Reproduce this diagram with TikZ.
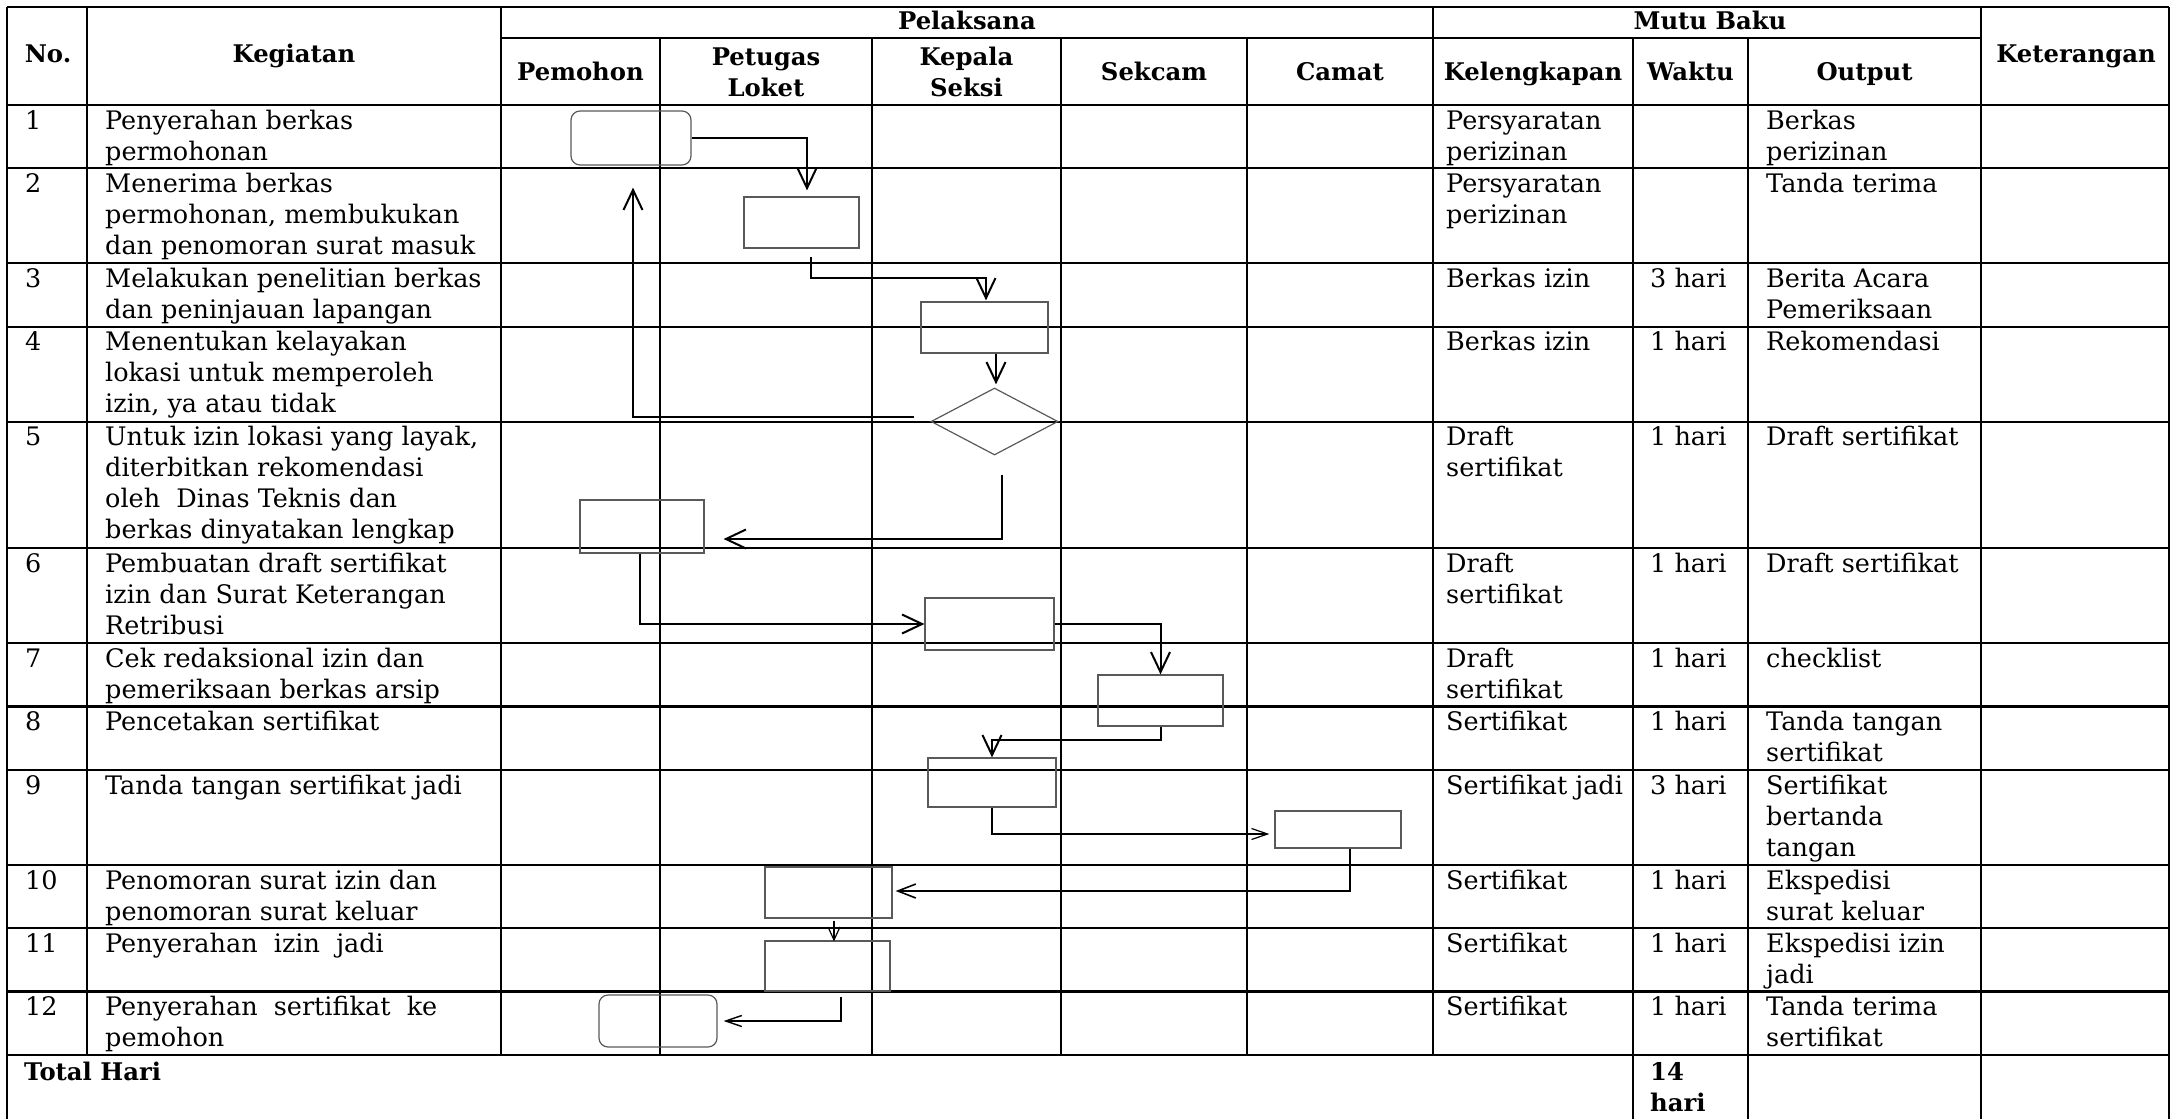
\documentclass[tikz,border=0pt]{standalone}
\usepackage{fontspec}
\setmainfont{DejaVu Serif}
\usetikzlibrary{arrows.meta,calc,shapes.geometric}
\newcommand\rowstrut{\rule{0pt}{24pt}}
\begin{document}
\begin{tikzpicture}[x=1pt,y=-1pt,
  gridline/.style={line width=2.2pt},
  gridlight/.style={line width=1.3pt},
  cell/.style={anchor=north west, inner sep=0pt, align=left, font=\fontsize{25.5}{31}\selectfont},
  headtxt/.style={anchor=base, inner sep=0pt, align=center, font=\bfseries\fontsize{24.3}{31}\selectfont},
  headtwo/.style={anchor=north, inner sep=0pt, align=center, font=\bfseries\fontsize{24.3}{31}\selectfont},
  proc/.style={draw=black!65, line width=1.2pt, rectangle, inner sep=0pt},
  term/.style={proc, rounded corners=9pt},
  dec/.style={draw=black!65, line width=1.2pt, diamond, aspect=1.9, inner sep=0pt, minimum width=127pt, minimum height=67pt},
  bigarr/.style={draw, line width=2pt, -{Straight Barb[length=20pt,width=19pt]}},
  medarr/.style={draw, line width=1.6pt, -{Straight Barb[length=18pt,width=14pt]}},
  thinarr/.style={draw, line width=1.2pt, -{Straight Barb[length=16pt,width=11pt]}},
]
\useasboundingbox (0,0) rectangle (2176,1119);

% ---------- table frame ----------
\draw[gridline] (7,7) -- (2169,7);
\draw[gridline] (7,7) -- (7,1119);
\draw[gridline] (2169,7) -- (2169,1119);
\draw[gridline] (501,38) -- (1981,38);
\foreach \yy in {105,168.3,263.3,326.6,421.6,548.2,643.2,706.5,769.8,864.8,928.1,991.4,1054.7}
  \draw[gridline] (7,\yy) -- (2169,\yy);
\foreach \xx in {87,501,1433}
  \draw[gridline] (\xx,7) -- (\xx,1054.7);
\draw[gridline] (1981,7) -- (1981,1119);
\draw[gridlight] (660,38) -- (660,1054.7);
\foreach \xx in {872,1061,1247}
  \draw[gridline] (\xx,38) -- (\xx,1054.7);
\foreach \xx in {1633,1748}
  \draw[gridline] (\xx,38) -- (\xx,1119);

% ---------- header ----------
\node[headtxt] (hno) at (48,62) {No.};
\node[headtxt] (hkeg) at (294,62) {Kegiatan};
\node[headtxt] (hpel) at (967,29) {Pelaksana};
\node[headtxt] (hmutu) at (1710,29) {Mutu Baku};
\node[headtxt] (hpem) at (580.5,80) {Pemohon};
\node[headtwo] (hpet) at (766,41) {\rowstrut Petugas\\Loket};
\node[headtwo] (hkep) at (966.5,41) {\rowstrut Kepala\\Seksi};
\node[headtxt] (hsek) at (1154,80) {Sekcam};
\node[headtxt] (hcam) at (1340,80) {Camat};
\node[headtxt] (hkel) at (1533,80) {Kelengkapan};
\node[headtxt] (hwak) at (1690.5,80) {Waktu};
\node[headtxt] (hout) at (1864.5,80) {Output};
\node[headtxt] (hket) at (2076,62) {Keterangan};

% ---------- rows ----------
\node[cell] (n1) at (25,105) {\rowstrut 1};
\node[cell] (k1) at (105,105) {\rowstrut Penyerahan berkas\\permohonan};
\node[cell] (l1) at (1446,105) {\rowstrut Persyaratan\\perizinan};
\node[cell] (o1) at (1766,105) {\rowstrut Berkas\\perizinan};

\node[cell] (n2) at (25,168.3) {\rowstrut 2};
\node[cell] (k2) at (105,168.3) {\rowstrut Menerima berkas\\permohonan, membukukan\\dan penomoran surat masuk};
\node[cell] (l2) at (1446,168.3) {\rowstrut Persyaratan\\perizinan};
\node[cell] (o2) at (1766,168.3) {\rowstrut Tanda terima};

\node[cell] (n3) at (25,263.3) {\rowstrut 3};
\node[cell] (k3) at (105,263.3) {\rowstrut Melakukan penelitian berkas\\dan peninjauan lapangan};
\node[cell] (l3) at (1446,263.3) {\rowstrut Berkas izin};
\node[cell] (w3) at (1650,263.3) {\rowstrut 3 hari};
\node[cell] (o3) at (1766,263.3) {\rowstrut Berita Acara\\Pemeriksaan};

\node[cell] (n4) at (25,326.6) {\rowstrut 4};
\node[cell] (k4) at (105,326.6) {\rowstrut Menentukan kelayakan\\lokasi untuk memperoleh\\izin, ya atau tidak};
\node[cell] (l4) at (1446,326.6) {\rowstrut Berkas izin};
\node[cell] (w4) at (1650,326.6) {\rowstrut 1 hari};
\node[cell] (o4) at (1766,326.6) {\rowstrut Rekomendasi};

\node[cell] (n5) at (25,421.6) {\rowstrut 5};
\node[cell] (k5) at (105,421.6) {\rowstrut Untuk izin lokasi yang layak,\\diterbitkan rekomendasi\\oleh\ \ Dinas Teknis dan\\berkas dinyatakan lengkap};
\node[cell] (l5) at (1446,421.6) {\rowstrut Draft\\sertifikat};
\node[cell] (w5) at (1650,421.6) {\rowstrut 1 hari};
\node[cell] (o5) at (1766,421.6) {\rowstrut Draft sertifikat};

\node[cell] (n6) at (25,548.2) {\rowstrut 6};
\node[cell] (k6) at (105,548.2) {\rowstrut Pembuatan draft sertifikat\\izin dan Surat Keterangan\\Retribusi};
\node[cell] (l6) at (1446,548.2) {\rowstrut Draft\\sertifikat};
\node[cell] (w6) at (1650,548.2) {\rowstrut 1 hari};
\node[cell] (o6) at (1766,548.2) {\rowstrut Draft sertifikat};

\node[cell] (n7) at (25,643.2) {\rowstrut 7};
\node[cell] (k7) at (105,643.2) {\rowstrut Cek redaksional izin dan\\pemeriksaan berkas arsip};
\node[cell] (l7) at (1446,643.2) {\rowstrut Draft\\sertifikat};
\node[cell] (w7) at (1650,643.2) {\rowstrut 1 hari};
\node[cell] (o7) at (1766,643.2) {\rowstrut checklist};

\node[cell] (n8) at (25,706.5) {\rowstrut 8};
\node[cell] (k8) at (105,706.5) {\rowstrut Pencetakan sertifikat};
\node[cell] (l8) at (1446,706.5) {\rowstrut Sertifikat};
\node[cell] (w8) at (1650,706.5) {\rowstrut 1 hari};
\node[cell] (o8) at (1766,706.5) {\rowstrut Tanda tangan\\sertifikat};

\node[cell] (n9) at (25,769.8) {\rowstrut 9};
\node[cell] (k9) at (105,769.8) {\rowstrut Tanda tangan sertifikat jadi};
\node[cell] (l9) at (1446,769.8) {\rowstrut Sertifikat jadi};
\node[cell] (w9) at (1650,769.8) {\rowstrut 3 hari};
\node[cell] (o9) at (1766,769.8) {\rowstrut Sertifikat\\bertanda\\tangan};

\node[cell] (n10) at (25,864.8) {\rowstrut 10};
\node[cell] (k10) at (105,864.8) {\rowstrut Penomoran surat izin dan\\penomoran surat keluar};
\node[cell] (l10) at (1446,864.8) {\rowstrut Sertifikat};
\node[cell] (w10) at (1650,864.8) {\rowstrut 1 hari};
\node[cell] (o10) at (1766,864.8) {\rowstrut Ekspedisi\\surat keluar};

\node[cell] (n11) at (25,928.1) {\rowstrut 11};
\node[cell] (k11) at (105,928.1) {\rowstrut Penyerahan\ \ izin\ \ jadi};
\node[cell] (l11) at (1446,928.1) {\rowstrut Sertifikat};
\node[cell] (w11) at (1650,928.1) {\rowstrut 1 hari};
\node[cell] (o11) at (1766,928.1) {\rowstrut Ekspedisi izin\\jadi};

\node[cell] (n12) at (25,991.4) {\rowstrut 12};
\node[cell] (k12) at (105,991.4) {\rowstrut Penyerahan\ \ sertifikat\ \ ke\\pemohon};
\node[cell] (l12) at (1446,991.4) {\rowstrut Sertifikat};
\node[cell] (w12) at (1650,991.4) {\rowstrut 1 hari};
\node[cell] (o12) at (1766,991.4) {\rowstrut Tanda terima\\sertifikat};

\node[cell, font=\bfseries\fontsize{24.3}{31}\selectfont] (tot) at (24,1056.5) {\rowstrut Total Hari};
\node[cell, font=\bfseries\fontsize{24.3}{31}\selectfont] (wtot) at (1650,1056.5) {\rowstrut 14\\hari};

% ---------- flow symbols ----------
\node[term, minimum width=120pt, minimum height=54pt] (s1) at (631,138) {};
\node[proc, minimum width=115pt, minimum height=51pt] (p2) at (801.5,222.5) {};
\node[proc, minimum width=127pt, minimum height=51pt] (p3) at (984.5,327.5) {};
\node[dec] (d4) at (994.5,421.5) {};
\node[proc, minimum width=124pt, minimum height=53pt] (p5) at (642,526.5) {};
\node[proc, minimum width=129pt, minimum height=52pt] (p6) at (989.5,624) {};
\node[proc, minimum width=125pt, minimum height=51pt] (p7) at (1160.5,700.5) {};
\node[proc, minimum width=128pt, minimum height=49pt] (p8) at (992,782.5) {};
\node[proc, minimum width=126pt, minimum height=37pt] (p9) at (1338,829.5) {};
\node[proc, minimum width=127pt, minimum height=51pt] (p10) at (828.5,892.5) {};
\node[proc, minimum width=125pt, minimum height=50pt] (p11) at (827.5,966) {};
\node[term, minimum width=118pt, minimum height=52pt] (s12) at (658,1021) {};

% ---------- connectors ----------
\draw[bigarr] (s1.east) -| ($(p2.north)+(5.5,-6)$);
\draw[bigarr] ($(p2.south)+(9.5,8)$) |- ($(p3.north)+(1.5,-23)$) -- ($(p3.north)+(1.5,-1)$);
\draw[bigarr] ($(p3.south)+(11.5,0)$) -- ($(d4.north)+(1.5,-3)$);
\draw[bigarr] ($(d4.west)+(-16,-4.5)$) -| ($(s1.south)+(2,22)$);
\draw[bigarr] ($(d4.south)+(7.5,19)$) |- ($(p5.east)+(19,12.5)$);
\draw[bigarr] ($(p5.south)+(-2,0)$) |- (p6.west);
\draw[bigarr] (p6.east) -| (p7.north);
\draw[bigarr] (p7.south) |- ($(p8.north)+(0,-17)$) -- (p8.north);
\draw[thinarr] (p8.south) |- ($(p9.west)+(-5,4.5)$);
\draw[medarr] ($(p9.south)+(12,0)$) |- ($(p10.east)+(3,-1.5)$);
\draw[thinarr, -{Straight Barb[length=13pt,width=12pt]}] ($(p10.south)+(5.5,2)$) -- ($(p11.north)+(6.5,1)$);
\draw[thinarr, line width=1.4pt] ($(p11.south)+(13.5,5)$) |- ($(s12.east)+(6,0)$);
\end{tikzpicture}
\end{document}
